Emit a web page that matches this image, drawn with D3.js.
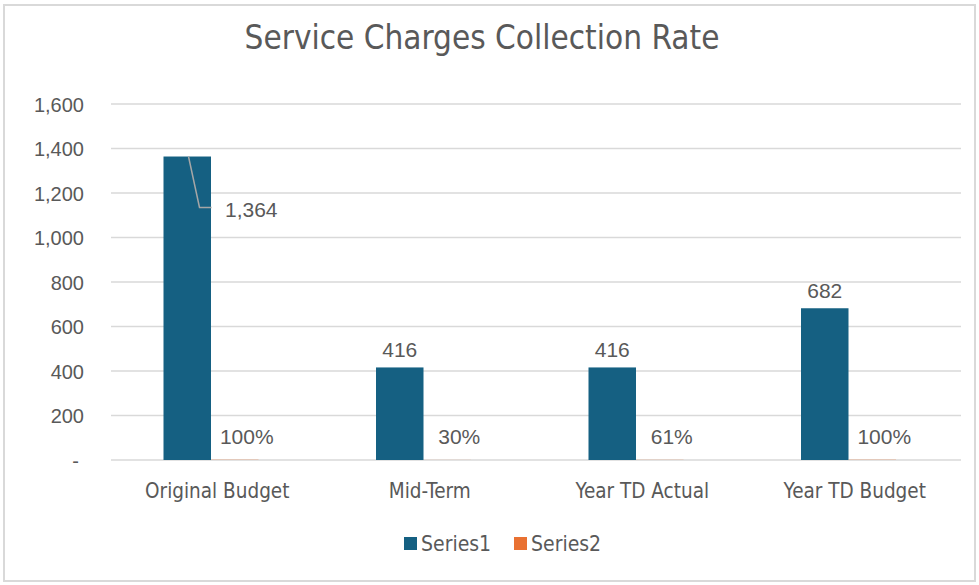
<!DOCTYPE html>
<html>
<head>
<meta charset="utf-8">
<script src="https://cdn.jsdelivr.net/npm/d3@7"></script>
<style>
  body { margin: 0; background: #fff; }
  .narrow { font-family: "Liberation Sans Narrow", "DejaVu Sans Condensed", "Roboto", sans-serif; font-stretch: condensed; }
  .arial { font-family: "Liberation Sans", Arial, sans-serif; }
</style>
</head>
<body>
<div id="container"></div>
<script>
/* DATA */
const categories = ["Original Budget", "Mid-Term", "Year TD Actual", "Year TD Budget"];
const series1 = [1364, 416, 416, 682];
const series2 = [1.00, 0.30, 0.61, 1.00];
const seriesNames = ["Series1", "Series2"];
const yTicks = [0, 200, 400, 600, 800, 1000, 1200, 1400, 1600];

/* CONSTANTS */
const width = 979, height = 585;
const plot = { left: 111, right: 961, top: 104, bottom: 460 };
const colors = { Series1: "#156082", Series2: "#E97132" };
const textColor = "#595959";

const svg = d3.select("#container")
  .append("svg")
  .attr("width", width)
  .attr("height", height);

// chart frame
svg.append("rect")
  .attr("x", 4).attr("y", 5)
  .attr("width", 971).attr("height", 576)
  .attr("fill", "#fff")
  .attr("stroke", "#d9d9d9")
  .attr("stroke-width", 2);

// scales
const xScale = d3.scaleBand()
  .domain(categories)
  .range([plot.left, plot.right]);

const barW = 47.5;
const xInner = d3.scaleBand()
  .domain(seriesNames)
  .range([52.5, 52.5 + barW * 2]);

const yScale = d3.scaleLinear()
  .domain([0, 1600])
  .range([plot.bottom, plot.top]);

// gridlines
svg.append("g")
  .selectAll("line")
  .data(yTicks)
  .join("line")
  .attr("x1", plot.left).attr("x2", plot.right)
  .attr("y1", d => yScale(d)).attr("y2", d => yScale(d))
  .attr("stroke", "#d9d9d9")
  .attr("stroke-width", 1.3);

// y axis labels
const yAxis = d3.axisLeft(yScale)
  .tickValues(yTicks)
  .tickSize(0)
  .tickPadding(0)
  .tickFormat(d => d === 0 ? "-" : d3.format(",")(d));

const gy = svg.append("g")
  .attr("class", "arial")
  .attr("transform", `translate(84,0)`)
  .call(yAxis);
gy.select(".domain").remove();
gy.selectAll("text")
  .attr("fill", textColor)
  .attr("font-size", 20)
  .attr("dy", "0.35em");
gy.selectAll(".tick").filter(d => d === 0).select("text").attr("dx", -5);

// x axis labels
const xAxis = d3.axisBottom(xScale).tickSize(0).tickPadding(0);
const gx = svg.append("g")
  .attr("class", "narrow")
  .attr("transform", `translate(0,${plot.bottom})`)
  .call(xAxis);
gx.select(".domain").remove();
gx.selectAll("text")
  .attr("fill", textColor)
  .attr("font-size", 20.5)
  .attr("y", 31)
  .attr("dy", "0.35em");

// bars
const rows = categories.map((c, i) => ({ cat: c, Series1: series1[i], Series2: series2[i] }));

const groups = svg.append("g")
  .selectAll("g")
  .data(rows)
  .join("g")
  .attr("transform", d => `translate(${xScale(d.cat)},0)`);

groups.selectAll("rect")
  .data(d => seriesNames.map(k => ({ key: k, value: d[k] })))
  .join("rect")
  .attr("x", d => xInner(d.key))
  .attr("width", xInner.bandwidth())
  .attr("y", d => yScale(d.value))
  .attr("height", d => yScale(0) - yScale(d.value))
  .attr("fill", d => colors[d.key]);

// series1 labels (first one moved out with a leader line)
groups.append("text")
  .attr("class", "arial")
  .attr("fill", textColor)
  .attr("font-size", 21)
  .attr("text-anchor", (d, i) => i === 0 ? "start" : "middle")
  .attr("x", (d, i) => i === 0 ? xInner("Series1") + barW + 14 : xInner("Series1") + barW / 2)
  .attr("y", (d, i) => i === 0 ? yScale(d.Series1) + 60 : yScale(d.Series1) - 10)
  .text(d => d3.format(",")(d.Series1));

groups.filter((d, i) => i === 0)
  .append("polyline")
  .attr("points", d => {
    const x0 = xInner("Series1") + 25, y0 = yScale(d.Series1);
    return `${x0},${y0} ${x0 + 11},${y0 + 51} ${x0 + 23},${y0 + 51}`;
  })
  .attr("fill", "none")
  .attr("stroke", "#a6a6a6")
  .attr("stroke-width", 1.5);

// series2 labels
groups.append("text")
  .attr("class", "arial")
  .attr("fill", textColor)
  .attr("font-size", 21)
  .attr("text-anchor", "middle")
  .attr("x", xInner("Series2") + xInner.bandwidth() / 2 + 12)
  .attr("y", d => yScale(d.Series2) - 16)
  .text(d => d3.format(".0%")(d.Series2));

// title
svg.append("text")
  .attr("class", "narrow")
  .attr("x", 482).attr("y", 49)
  .attr("text-anchor", "middle")
  .attr("fill", textColor)
  .attr("font-size", 33)
  .text("Service Charges Collection Rate");

// legend
const legend = svg.append("g")
  .attr("class", "narrow")
  .selectAll("g")
  .data(seriesNames)
  .join("g")
  .attr("transform", (d, i) => `translate(${404 + i * 110},537)`);
legend.append("rect")
  .attr("width", 13).attr("height", 13)
  .attr("fill", d => colors[d]);
legend.append("text")
  .attr("x", 17).attr("y", 7)
  .attr("dy", "0.35em")
  .attr("fill", textColor)
  .attr("font-size", 21)
  .text(d => d);
</script>
</body>
</html>
